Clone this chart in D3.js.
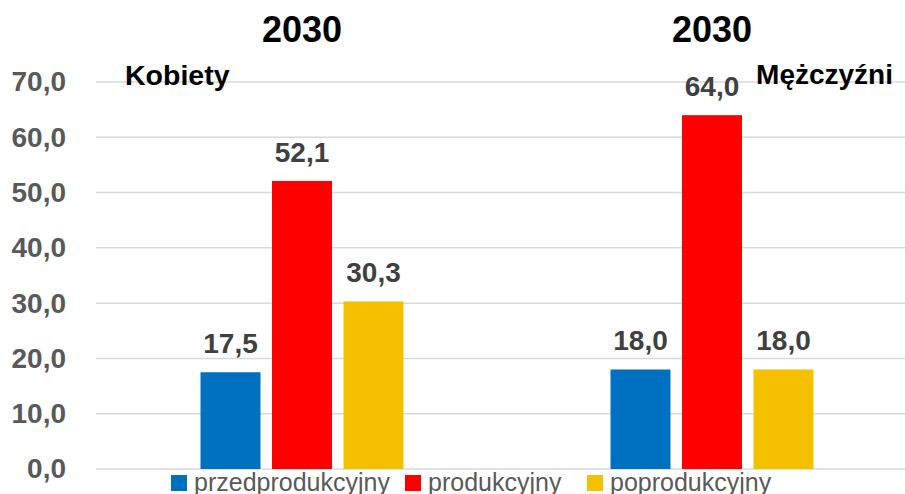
<!DOCTYPE html>
<html>
<head>
<meta charset="utf-8">
<script src="https://cdn.jsdelivr.net/npm/d3@7"></script>
<style>
  body { margin: 0; background: #fff; overflow: hidden; }
  svg text { font-family: "Liberation Sans", Arial, sans-serif; }
</style>
</head>
<body>
<div id="chart"></div>
<script>
// dane
const grupy = ["Kobiety", "Mężczyźni"];
const lata = ["2030", "2030"];
const serie = ["przedprodukcyjny", "produkcyjny", "poprodukcyjny"];
const kobiety = [17.5, 52.1, 30.3];
const mezczyzni = [18.0, 64.0, 18.0];
const ticki = [0, 10, 20, 30, 40, 50, 60, 70];
const kolory = ["#0070c0", "#ff0000", "#f5c000"];

const W = 905, H = 494;
const svg = d3.select("#chart").append("svg").attr("width", W).attr("height", H);

const y = d3.scaleLinear().domain([0, 70]).range([469, 82]);
const x0 = d3.scaleBand().domain(grupy).range([97, 917]);
const x1 = d3.scaleBand().domain(serie).range([-101.5, 101.5]).paddingInner(0.161).paddingOuter(0);

const fmt = v => d3.format(".1f")(v).replace(".", ",");

// siatka
svg.append("g").selectAll("line").data(ticki).enter().append("line")
  .attr("x1", 96).attr("x2", W)
  .attr("y1", d => y(d)).attr("y2", d => y(d))
  .attr("stroke", "#d9d9d9").attr("stroke-width", 1.5);

// os y
const osY = svg.append("g").attr("transform", "translate(66,0)")
  .call(d3.axisLeft(y).tickValues(ticki).tickSize(0).tickPadding(0).tickFormat(fmt));
osY.select(".domain").remove();
osY.selectAll("text").attr("font-size", 28).attr("font-weight", "bold")
  .attr("fill", "#595959").attr("font-family", "Liberation Sans, Arial, sans-serif");

const dane = [kobiety, mezczyzni];
const g = svg.selectAll(".grupa").data(grupy).enter().append("g")
  .attr("transform", d => "translate(" + (x0(d) + x0.bandwidth() / 2) + ",0)");

g.selectAll("rect").data((d, i) => dane[i].map((v, j) => ({ s: serie[j], v: v, c: kolory[j] })))
  .enter().append("rect")
  .attr("x", d => x1(d.s)).attr("width", x1.bandwidth())
  .attr("y", d => y(d.v)).attr("height", d => y(0) - y(d.v))
  .attr("fill", d => d.c);

g.selectAll(".lab").data((d, i) => dane[i].map((v, j) => ({ s: serie[j], v: v })))
  .enter().append("text")
  .attr("x", d => x1(d.s) + x1.bandwidth() / 2)
  .attr("y", d => y(d.v) - 19)
  .attr("text-anchor", "middle").attr("font-size", 28).attr("font-weight", "bold")
  .attr("fill", "#404040").text(d => fmt(d.v));

// tytuly
g.append("text").attr("x", 0).attr("y", 42).attr("text-anchor", "middle")
  .attr("font-size", 36).attr("font-weight", "bold").attr("fill", "#000")
  .text((d, i) => lata[i]);

svg.append("text").attr("x", 125).attr("y", 85).attr("font-size", 28.5)
  .attr("font-weight", "bold").attr("fill", "#000").text(grupy[0]);
svg.append("text").attr("x", 893).attr("y", 84).attr("text-anchor", "end").attr("font-size", 28)
  .attr("font-weight", "bold").attr("fill", "#000").text(grupy[1]);

// legenda
const legX = [171, 405, 587];
const leg = svg.selectAll(".leg").data(serie).enter().append("g")
  .attr("transform", (d, i) => "translate(" + legX[i] + ",475)");
leg.append("rect").attr("width", 16).attr("height", 16).attr("fill", (d, i) => kolory[i]);
leg.append("text").attr("x", 23).attr("y", 16).attr("font-size", 25)
  .attr("font-family", "Open Sans, sans-serif").attr("fill", "#595959").text(d => d);
</script>
</body>
</html>
